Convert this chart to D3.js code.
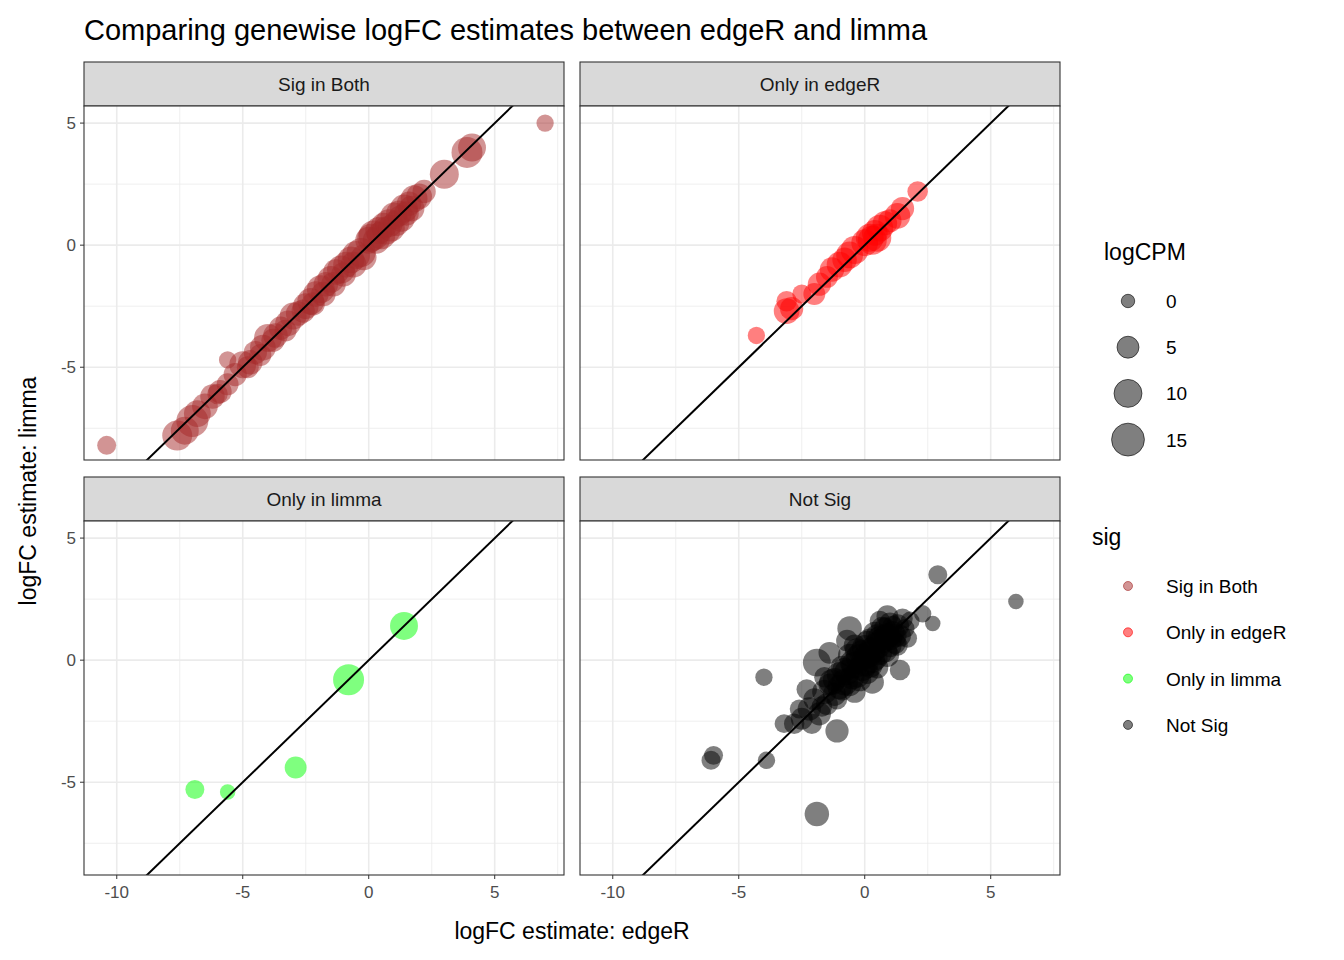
<!DOCTYPE html><html><head><meta charset="utf-8"><script src="https://cdn.jsdelivr.net/npm/d3@7"></script>
<style>body{margin:0;background:#fff}text{font-family:"Liberation Sans",Arial,sans-serif}</style></head><body><svg id="c" width="1344" height="960"></svg>
<script>
const groups=["Sig in Both","Only in edgeR","Only in limma","Not Sig"];
const colors=["#a52a2a","#ff0000","#00ff00","#000000"];
const xTicks=[-10,-5,0,5], yTicks=[-5,0,5];
const sizeTicks=[0,5,10,15];
const sigBoth=[[-10.4,-8.2,3],[-7.6,-7.8,12],[-7.3,-7.6,10],[-7.0,-7.2,14],[-6.8,-6.9,9],[-6.5,-6.6,8],[-6.2,-6.2,7],[-6.0,-6.1,4],[-5.9,-6.0,6],[-5.6,-5.7,5],[-5.6,-4.7,2],[-5.3,-5.3,6],[-5.0,-4.9,9],[-4.8,-5.0,5],[-4.7,-4.8,7],[-4.5,-4.4,6],[-4.3,-4.5,5],[-4.2,-4.2,8],[-4.0,-3.8,10],[-3.8,-3.9,6],[-3.7,-3.7,7],[-3.5,-3.4,6],[-3.3,-3.5,5],[-3.2,-3.2,8],[-3.0,-2.9,9],[-2.8,-2.8,7],[-2.6,-2.7,6],[-2.5,-2.5,8],[-2.3,-2.3,9],[-2.2,-2.4,6],[-2.1,-2.0,8],[-1.9,-1.8,10],[-1.8,-2.0,7],[-1.7,-1.6,7],[-1.5,-1.4,9],[-1.4,-1.6,7],[-1.3,-1.1,8],[-1.1,-1.0,10],[-1.0,-1.2,7],[-0.9,-0.8,8],[-0.7,-0.6,9],[-0.6,-0.8,8],[-0.5,-0.4,10],[-0.3,-0.3,11],[-0.2,-0.5,8],[0.0,0.2,9],[0.1,0.3,10],[0.2,0.4,12],[0.3,0.2,9],[0.4,0.6,9],[0.5,0.4,10],[0.6,0.8,8],[0.7,0.6,10],[0.8,0.9,10],[0.9,0.7,9],[1.0,1.2,9],[1.1,0.9,8],[1.2,1.3,8],[1.3,1.1,9],[1.4,1.5,10],[1.5,1.3,7],[1.6,1.7,7],[1.7,1.5,8],[1.8,1.9,9],[2.0,2.0,8],[2.2,2.2,6],[3.0,2.9,11],[3.9,3.8,13],[4.1,4.0,10],[7.0,5.0,2]];
const onlyEdgeR=[[-4.3,-3.7,2],[-3.1,-2.3,4],[-3.1,-2.7,8],[-2.9,-2.6,6],[-2.5,-2.0,3],[-2.0,-2.0,5],[-1.8,-1.6,6],[-1.5,-1.3,5],[-1.3,-1.0,7],[-1.0,-0.8,8],[-0.8,-0.6,7],[-0.6,-0.4,9],[-0.4,-0.2,10],[0.0,0.1,9],[0.2,0.3,10],[0.3,0.2,11],[0.4,0.5,8],[0.5,0.3,10],[0.6,0.7,9],[0.8,0.9,7],[1.0,1.0,6],[1.3,1.2,8],[1.5,1.5,6],[2.1,2.2,4]];
const onlyLimma=[[1.4,1.4,10],[-0.8,-0.8,13],[-2.9,-4.4,5],[-6.9,-5.3,3],[-5.6,-5.4,1]];
const notSig=[[6.0,2.4,1],[2.9,3.5,3],[2.7,1.5,1],[2.3,1.9,2],[-4.0,-0.7,2],[-6.0,-3.9,3],[-6.1,-4.1,3],[-3.9,-4.1,2],[-1.9,-6.3,7],[-1.1,-2.9,6],[-1.9,-0.1,10],[-0.6,1.3,7],[-2.8,-2.6,4],[-2.5,-2.4,5],[-2.2,-2.0,6],[-2.0,-1.6,5],[-1.8,-2.2,6],[-1.6,-1.3,7],[-1.5,-1.8,5],[-1.3,-0.9,8],[-1.2,-1.4,6],[-1.0,-0.6,8],[-1.0,-1.1,7],[-0.9,-0.3,6],[-0.8,-0.9,9],[-0.7,-0.5,8],[-0.6,0.2,6],[-0.5,-0.7,7],[-0.4,-0.2,9],[-0.3,0.4,7],[-0.3,-0.6,8],[-0.2,0.1,10],[-0.1,-0.3,9],[0.0,0.5,8],[0.0,-0.1,10],[0.1,0.2,9],[0.2,0.8,7],[0.2,-0.2,8],[0.3,0.4,9],[0.4,1.1,6],[0.4,0.1,8],[0.5,0.6,9],[0.6,0.3,7],[0.7,1.3,6],[0.7,0.8,8],[0.8,0.4,7],[0.9,1.0,8],[1.0,1.5,5],[1.0,0.6,6],[1.1,1.1,7],[1.2,0.7,5],[1.3,1.4,6],[1.4,1.0,5],[1.5,1.7,4],[1.6,1.3,3],[1.7,0.9,3],[0.9,1.8,5],[-0.4,-1.3,5],[0.3,-0.9,6],[1.4,-0.4,4],[-1.4,0.3,5],[-2.3,-1.2,4],[1.8,1.6,3],
[-1.7,-1.9,4],[-1.4,-1.0,5],[-1.2,-0.8,6],[-1.1,-1.6,4],[-0.9,-1.2,5],[-0.8,-0.4,7],[-0.6,-1.0,6],[-0.5,-0.1,7],[-0.4,0.6,5],[-0.2,-0.8,6],[-0.1,0.3,8],[0.1,-0.5,6],[0.1,0.7,7],[0.3,0.0,8],[0.5,1.0,6],[0.5,-0.3,5],[0.6,0.9,7],[0.8,1.3,5],[0.9,0.2,6],[1.0,0.9,7],[1.1,1.4,4],[1.2,1.0,6],[1.3,0.6,4],[-2.6,-2.0,3],[-2.1,-2.6,4],[-0.7,0.8,5],[0.6,1.6,4],[-1.6,-0.7,4],[-3.2,-2.6,3]];
const data=[sigBoth,onlyEdgeR,onlyLimma,notSig];

const svg=d3.select("#c");
const panels=[[84,62],[580,62],[84,477],[580,477]];
const W=480,S=44,H=354;
const x=d3.scaleLinear().domain([-11.3,7.75]).range([0,W]);
const y=d3.scaleLinear().domain([-8.8,5.7]).range([H,0]);
const area=d3.scaleLinear().domain([0,15]).range([45,270]);
const r=v=>Math.sqrt(Math.max(area(v),10));
svg.append("text").attr("x",84).attr("y",40).attr("font-size",29).text("Comparing genewise logFC estimates between edgeR and limma");
panels.forEach(([px,py],i)=>{
  const g=svg.append("g").attr("transform",`translate(${px},${py})`);
  g.append("rect").attr("width",W).attr("height",S).attr("fill","#d9d9d9").attr("stroke","#333").attr("stroke-width",1.1);
  g.append("text").attr("x",W/2).attr("y",S/2+7).attr("text-anchor","middle").attr("font-size",19).attr("fill","#1a1a1a").text(groups[i]);
  const p=g.append("g").attr("transform",`translate(0,${S})`);
  p.append("rect").attr("width",W).attr("height",H).attr("fill","#fff");
  const minX=[-7.5,-2.5,2.5,7.5], minY=[-7.5,-2.5,2.5];
  minX.forEach(v=>p.append("line").attr("x1",x(v)).attr("x2",x(v)).attr("y2",H).attr("stroke","#ebebeb").attr("stroke-width",0.8));
  minY.forEach(v=>p.append("line").attr("y1",y(v)).attr("y2",y(v)).attr("x2",W).attr("stroke","#ebebeb").attr("stroke-width",0.8));
  xTicks.forEach(v=>p.append("line").attr("x1",x(v)).attr("x2",x(v)).attr("y2",H).attr("stroke","#ebebeb").attr("stroke-width",1.6));
  yTicks.forEach(v=>p.append("line").attr("y1",y(v)).attr("y2",y(v)).attr("x2",W).attr("stroke","#ebebeb").attr("stroke-width",1.6));
  const c=p.append("g").attr("clip-path",`url(#cl)`);
  c.selectAll("circle").data(data[i]).join("circle").attr("cx",d=>x(d[0])).attr("cy",d=>y(d[1])).attr("r",d=>r(d[2])).attr("fill",colors[i]).attr("fill-opacity",0.5);
  c.append("line").attr("x1",x(-11.3)).attr("y1",y(-11.3)).attr("x2",x(7.75)).attr("y2",y(7.75)).attr("stroke","#000").attr("stroke-width",2);
  p.append("rect").attr("width",W).attr("height",H).attr("fill","none").attr("stroke","#333").attr("stroke-width",1.1);
  if(i%2==0) yTicks.forEach(v=>{p.append("line").attr("x1",-4).attr("x2",0).attr("y1",y(v)).attr("y2",y(v)).attr("stroke","#333");
    p.append("text").attr("x",-8).attr("y",y(v)+6).attr("text-anchor","end").attr("font-size",17).attr("fill","#4d4d4d").text(v);});
  if(i>=2) xTicks.forEach(v=>{p.append("line").attr("x1",x(v)).attr("x2",x(v)).attr("y1",H).attr("y2",H+4).attr("stroke","#333");
    p.append("text").attr("x",x(v)).attr("y",H+23).attr("text-anchor","middle").attr("font-size",17).attr("fill","#4d4d4d").text(v);});
});
svg.append("defs").append("clipPath").attr("id","cl").append("rect").attr("width",W).attr("height",H);
svg.append("text").attr("x",572).attr("y",939).attr("text-anchor","middle").attr("font-size",23).text("logFC estimate: edgeR");
svg.append("text").attr("transform","translate(36,491) rotate(-90)").attr("text-anchor","middle").attr("font-size",23).text("logFC estimate: limma");
svg.append("text").attr("x",1104).attr("y",260).attr("font-size",23).text("logCPM");
sizeTicks.forEach((v,k)=>{const cy=301+k*46.2;
  svg.append("circle").attr("cx",1128).attr("cy",cy).attr("r",r(v)).attr("fill","#000").attr("fill-opacity",0.5).attr("stroke","#000").attr("stroke-opacity",0.6);
  svg.append("text").attr("x",1166).attr("y",cy+7).attr("font-size",19).text(v);});
svg.append("text").attr("x",1092).attr("y",545).attr("font-size",23).text("sig");
groups.forEach((gname,k)=>{const cy=586+k*46.3;
  svg.append("circle").attr("cx",1128).attr("cy",cy).attr("r",4.5).attr("fill",colors[k]).attr("fill-opacity",0.5).attr("stroke",colors[k]).attr("stroke-opacity",0.6);
  svg.append("text").attr("x",1166).attr("y",cy+7).attr("font-size",19).text(gname);});
</script></body></html>
